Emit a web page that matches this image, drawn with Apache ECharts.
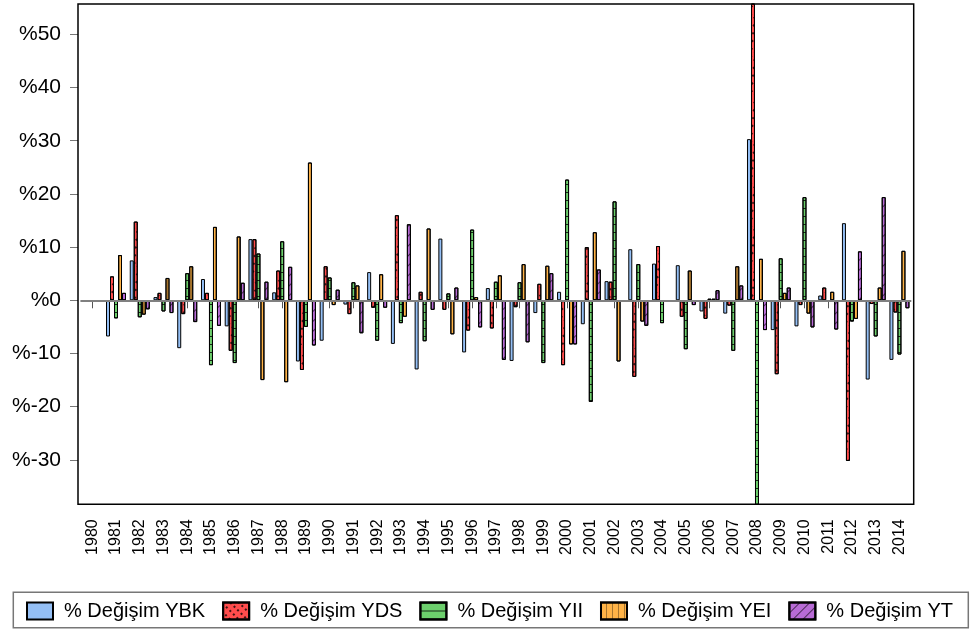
<!DOCTYPE html>
<html>
<head>
<meta charset="utf-8">
<script src="https://cdn.jsdelivr.net/npm/echarts@6/dist/echarts.min.js"></script>
<style>html,body{margin:0;padding:0;background:#fff}#c{width:979px;height:631px}</style>
</head>
<body>
<div id="c"></div>
<script>
const years = ['1980','1981','1982','1983','1984','1985','1986','1987','1988','1989','1990','1991','1992','1993','1994','1995','1996','1997','1998','1999','2000','2001','2002','2003','2004','2005','2006','2007','2008','2009','2010','2011','2012','2013','2014'];
const seriesNames = ['% Değişim YBK','% Değişim YDS','% Değişim YII','% Değişim YEI','% Değişim YT'];
const ybk = [null,-6.8,7.5,0.6,-9.0,4.0,-4.9,11.5,1.5,-11.5,-7.6,-0.8,5.3,-8.2,-13.0,11.6,-9.8,2.3,-11.4,-2.4,1.6,-4.5,3.6,9.6,6.9,6.6,-2.1,-2.5,30.3,-5.6,-4.9,0.9,14.5,-14.9,-11.2];
const yds = [null,4.5,14.8,1.4,-2.6,1.4,-9.5,11.5,5.6,-13.1,6.4,-2.6,-1.4,16.0,1.6,-1.8,-5.7,-5.3,-1.3,3.1,-12.2,10.0,3.5,-14.4,10.2,-3.1,-3.5,-1.0,58.0,-13.9,-0.9,2.4,-30.2,-0.7,-2.3];
const yii = [null,-3.4,-3.2,-2.1,5.1,-12.2,-11.8,8.8,11.1,-5.0,4.3,3.4,-7.6,-4.3,-7.7,1.3,13.3,3.5,3.4,-11.8,22.7,-19.1,18.6,6.8,-4.3,-9.2,0.3,-9.5,-40.0,7.9,19.4,-0.3,-4.0,-6.8,-10.2];
const yei = [null,8.5,-2.7,4.2,6.4,13.8,12.0,-15.0,-15.4,25.9,-0.9,2.8,4.9,-3.1,13.5,-6.4,0.6,4.7,6.8,6.5,-8.3,12.8,-11.5,-4.0,-0.3,5.6,0.3,6.4,7.8,1.4,-2.5,1.6,-3.5,2.4,9.3];
const yt  = [null,1.4,-1.7,-2.4,-4.1,-4.8,3.3,3.5,6.3,-8.5,2.0,-6.2,-1.4,14.3,-1.8,2.4,-5.1,-11.2,-7.9,5.1,-8.3,5.8,-0.1,-4.8,-0.3,-0.9,1.9,2.8,-5.6,2.4,-5.1,-5.5,9.2,19.4,-1.5];
const yTicks = [-30,-20,-10,0,10,20,30,40,50];
const yMin = -38.35, yMax = 55.7;

const colors = ['#94bff5','#ff4c4c','#6ccf6c','#ffb347','#b86bd6'];
const decals = [
  null,
  {symbol:'rect', symbolSize:1, dashArrayX:[2,3], dashArrayY:[2,4], rotation:Math.PI/4, color:'rgba(0,0,0,0.75)'},
  {symbol:'rect', symbolSize:1, dashArrayX:[1,0], dashArrayY:[1,7], rotation:0, color:'rgba(0,0,0,0.8)'},
  {symbol:'rect', symbolSize:1, dashArrayX:[1,0], dashArrayY:[1,5], rotation:Math.PI/2, color:'rgba(0,0,0,0.35)'},
  {symbol:'rect', symbolSize:1, dashArrayX:[1,0], dashArrayY:[1,6], rotation:-Math.PI/4, color:'rgba(0,0,0,0.6)'}
];
const allData = [ybk, yds, yii, yei, yt];
const FONT = 'Liberation Sans, Arial, sans-serif';

const chart = echarts.init(document.getElementById('c'), null, {renderer:'canvas'});
const series = allData.map((d, i) => {
  const s = {
    name: seriesNames[i],
    type: 'bar',
    data: d,
    barWidth: 4,
    barGap: '0%',
    clip: true,
    itemStyle: {color: colors[i], borderColor: '#000', borderWidth: 1},
    emphasis: {disabled: true}
  };
  if (decals[i]) s.itemStyle.decal = decals[i];
  return s;
});
series[0].markLine = {
  silent: true, symbol: ['none','none'], animation: false,
  label: {show: false},
  lineStyle: {color: '#808080', width: 2, type: 'solid'},
  data: [{yAxis: 0}]
};

chart.setOption({
  animation: false,
  backgroundColor: '#fff',
  textStyle: {fontFamily: FONT},
  grid: {left: 80.4, right: 67.7, top: 4, bottom: 126.7, containLabel: false},
  xAxis: {
    type: 'category',
    data: years,
    boundaryGap: true,
    axisLine: {show: false},
    axisTick: {show: true, alignWithLabel: true, length: 8, lineStyle: {color: '#555', width: 1}},
    axisLabel: {rotate: 90, fontSize: 16, color: '#000', margin: 15, fontFamily: FONT, interval: 0},
    splitLine: {show: false}
  },
  yAxis: {
    type: 'value',
    min: yMin, max: yMax,
    offset: 2.4,
    axisLine: {show: false},
    axisTick: {show: true, length: 8, customValues: yTicks, lineStyle: {color: '#777', width: 1}},
    axisLabel: {customValues: yTicks, fontSize: 21, color: '#000', margin: 17, fontFamily: FONT,
      formatter: v => '%' + Math.round(v)},
    splitLine: {show: false}
  },
  legend: {
    left: 26, top: 601,
    itemWidth: 26, itemHeight: 17, itemGap: 17,
    padding: 0,
    icon: 'rect',
    textStyle: {fontSize: 20, color: '#000', fontFamily: FONT, padding: [0,0,0,6]},
    data: seriesNames
  },
  graphic: [
    {type: 'rect', silent: true, z: 100, shape: {x: 78, y: 4, width: 835.7, height: 500.3},
     style: {fill: 'none', stroke: '#000', lineWidth: 1.5}},
    {type: 'rect', silent: true, z: 100, shape: {x: 13.3, y: 592.3, width: 955, height: 35.4},
     style: {fill: 'none', stroke: '#777', lineWidth: 1.5}}
  ],
  series: series
});
</script>
</body>
</html>
